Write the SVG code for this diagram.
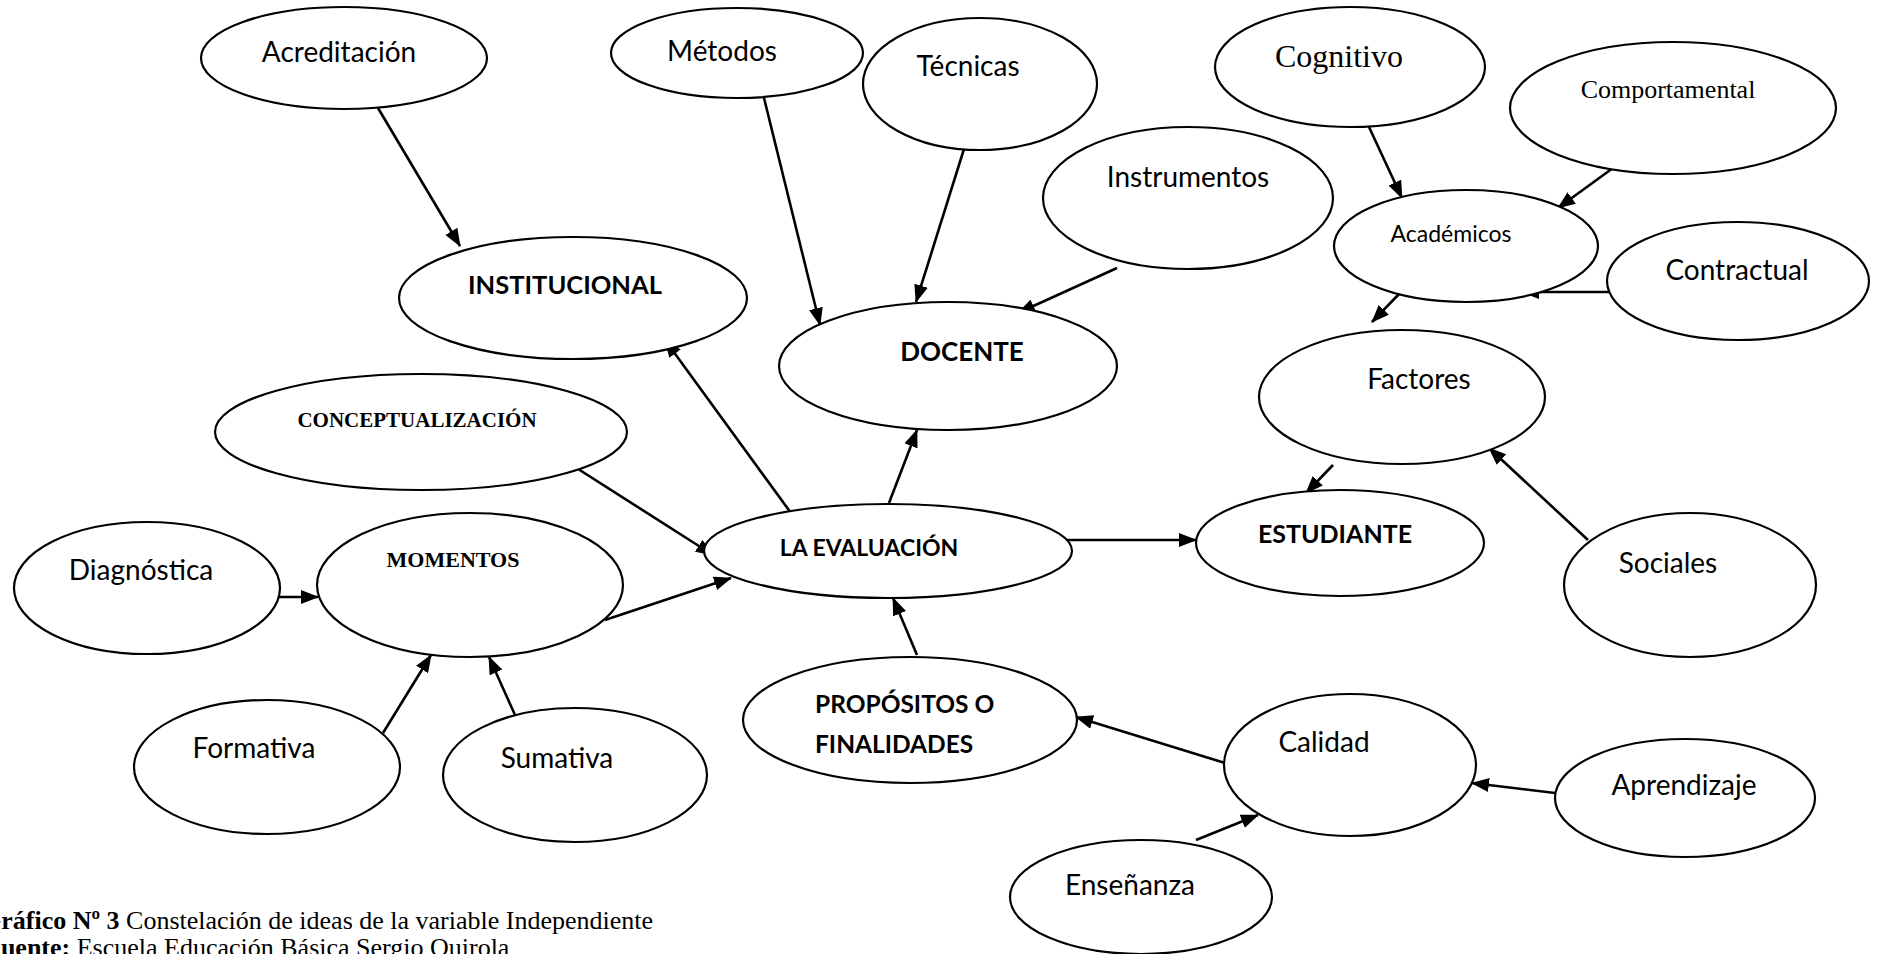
<svg xmlns="http://www.w3.org/2000/svg" width="1879" height="954" viewBox="0 0 1879 954">
<style>
.n ellipse{fill:#fff;stroke:#000;stroke-width:2.2}
.t{font-family:Lato,"Liberation Sans",sans-serif;font-size:28px;fill:#000;text-anchor:middle}
.b{font-weight:bold}
.s{font-family:"Liberation Serif","Times New Roman",serif;fill:#000;text-anchor:middle}
.c line{stroke:#000;stroke-width:2.6;marker-end:url(#ah)}
.cap{font-family:"Liberation Serif","Times New Roman",serif;font-size:26px;fill:#000}
</style>
<defs>
<marker id="ah" markerUnits="userSpaceOnUse" markerWidth="18" markerHeight="14" refX="17" refY="7" orient="auto">
<path d="M0,0 L18,7 L0,14 Z" fill="#000"/>
</marker>
</defs>
<rect width="1879" height="954" fill="#fff"/>
<g class="c" id="connectors">
<line x1="378" y1="108" x2="460" y2="246"/>
<line x1="764" y1="98" x2="820" y2="325"/>
<line x1="964" y1="149" x2="916" y2="302"/>
<line x1="1117" y1="268" x2="1018" y2="313"/>
<line x1="1369" y1="127" x2="1402" y2="198"/>
<line x1="1613" y1="168" x2="1558" y2="208"/>
<line x1="1620" y1="292" x2="1522" y2="292"/>
<line x1="1400" y1="293" x2="1372" y2="322"/>
<line x1="1588" y1="540" x2="1489" y2="448"/>
<line x1="1333" y1="465" x2="1306" y2="493"/>
<line x1="791" y1="513" x2="665" y2="340"/>
<line x1="889" y1="503" x2="917" y2="430"/>
<line x1="1066" y1="540" x2="1196" y2="540"/>
<line x1="564" y1="460" x2="713" y2="555"/>
<line x1="605" y1="620" x2="731" y2="578"/>
<line x1="279" y1="597" x2="318" y2="597"/>
<line x1="383" y1="733" x2="431" y2="655"/>
<line x1="515" y1="715" x2="489" y2="657"/>
<line x1="917" y1="655" x2="893" y2="598"/>
<line x1="1225" y1="763" x2="1076" y2="717"/>
<line x1="1555" y1="793" x2="1472" y2="783"/>
<line x1="1196" y1="840" x2="1258" y2="815"/>
</g>
<g class="n" id="acreditacion"><ellipse cx="344" cy="58" rx="143" ry="51"/><text class="t" x="339" y="62">Acreditación</text></g>
<g class="n" id="metodos"><ellipse cx="737" cy="53" rx="126" ry="45"/><text class="t" x="722" y="61">Métodos</text></g>
<g class="n" id="tecnicas"><ellipse cx="980" cy="84" rx="117" ry="66"/><text class="t" x="968" y="76">Técnicas</text></g>
<g class="n" id="cognitivo"><ellipse cx="1350" cy="67" rx="135" ry="60"/><text class="s" x="1339" y="67" font-size="32">Cognitivo</text></g>
<g class="n" id="comportamental"><ellipse cx="1673" cy="108" rx="163" ry="66"/><text class="s" x="1668" y="98" font-size="26">Comportamental</text></g>
<g class="n" id="instrumentos"><ellipse cx="1188" cy="198" rx="145" ry="71"/><text class="t" x="1188" y="187">Instrumentos</text></g>
<g class="n" id="academicos"><ellipse cx="1466" cy="246" rx="132" ry="56"/><text class="t" x="1451" y="242" style="font-size:23px">Académicos</text></g>
<g class="n" id="contractual"><ellipse cx="1738" cy="281" rx="131" ry="59"/><text class="t" x="1737" y="280">Contractual</text></g>
<g class="n" id="institucional"><ellipse cx="573" cy="298" rx="174" ry="61"/><text class="t b" x="565" y="294" style="font-size:25.5px">INSTITUCIONAL</text></g>
<g class="n" id="docente"><ellipse cx="948" cy="366" rx="169" ry="64"/><text class="t b" x="962" y="361" style="font-size:26px">DOCENTE</text></g>
<g class="n" id="factores"><ellipse cx="1402" cy="397" rx="143" ry="67"/><text class="t" x="1419" y="389">Factores</text></g>
<g class="n" id="conceptualizacion"><ellipse cx="421" cy="432" rx="206" ry="58"/><text class="s b" x="417" y="427" font-size="21">CONCEPTUALIZACIÓN</text></g>
<g class="n" id="evaluacion"><ellipse cx="888" cy="551" rx="184" ry="47"/><text class="t b" x="869" y="556" style="font-size:23px">LA EVALUACIÓN</text></g>
<g class="n" id="estudiante"><ellipse cx="1340" cy="543" rx="144" ry="53"/><text class="t b" x="1335" y="543" style="font-size:25px">ESTUDIANTE</text></g>
<g class="n" id="sociales"><ellipse cx="1690" cy="585" rx="126" ry="72"/><text class="t" x="1668" y="573">Sociales</text></g>
<g class="n" id="diagnostica"><ellipse cx="147" cy="588" rx="133" ry="66"/><text class="t" x="141" y="580">Diagnóstica</text></g>
<g class="n" id="momentos"><ellipse cx="470" cy="585" rx="153" ry="72"/><text class="s b" x="453" y="567" font-size="22">MOMENTOS</text></g>
<g class="n" id="formativa"><ellipse cx="267" cy="767" rx="133" ry="67"/><text class="t" x="254" y="758">Formativa</text></g>
<g class="n" id="sumativa"><ellipse cx="575" cy="775" rx="132" ry="67"/><text class="t" x="557" y="768">Sumativa</text></g>
<g class="n" id="propositos"><ellipse cx="910" cy="720" rx="167" ry="63"/><text class="t b" x="815" y="713" style="font-size:24.5px;text-anchor:start">PROPÓSITOS O</text><text class="t b" x="815" y="753" style="font-size:24.5px;text-anchor:start">FINALIDADES</text></g>
<g class="n" id="calidad"><ellipse cx="1350" cy="765" rx="126" ry="71"/><text class="t" x="1324" y="752">Calidad</text></g>
<g class="n" id="aprendizaje"><ellipse cx="1685" cy="798" rx="130" ry="59"/><text class="t" x="1684" y="795">Aprendizaje</text></g>
<g class="n" id="ensenanza"><ellipse cx="1141" cy="897" rx="131" ry="57"/><text class="t" x="1130" y="895">Enseñanza</text></g>
<g id="caption">
<text class="cap" x="-19" y="929"><tspan font-weight="bold">Gráfico Nº 3</tspan> Constelación de ideas de la variable Independiente</text>
<text class="cap" x="-15" y="956"><tspan font-weight="bold">Fuente:</tspan> Escuela Educación Básica Sergio Quirola</text>
</g>
</svg>
